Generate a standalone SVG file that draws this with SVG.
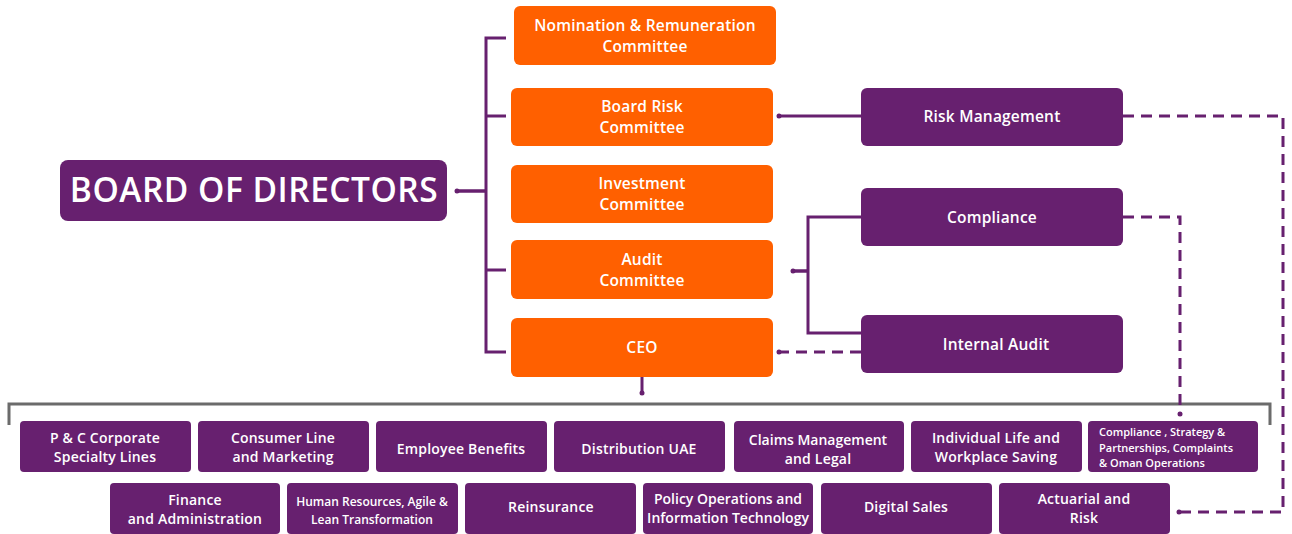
<svg xmlns="http://www.w3.org/2000/svg" width="1292" height="534" viewBox="0 0 1292 534">
<style>
.o{fill:#FF6000}
.p{fill:#67206F}
.t{font-family:"Open Sans","Liberation Sans",sans-serif;fill:#fff;text-anchor:middle;font-size:15.5px;font-weight:600;letter-spacing:0.2px}
.s{font-size:14px}
.ln{stroke:#67206F;stroke-width:3;fill:none}
.d{stroke:#67206F;stroke-width:3;fill:none;stroke-dasharray:11 7}
</style>
<defs>
<marker id="dot" viewBox="0 0 6 6" refX="3" refY="3" markerWidth="6" markerHeight="6" markerUnits="userSpaceOnUse"><circle cx="3" cy="3" r="2.5" fill="#67206F"/></marker>
</defs>
<rect width="1292" height="534" fill="#fff"/>
<g id="connectors">
<path class="ln" d="M506 38H486V352H506M486 116H506M486 270H506M486 191H457" />
<path class="ln" d="M486 191H457" marker-end="url(#dot)"/>
<path class="ln" d="M861 116H779" marker-end="url(#dot)"/>
<path class="ln" d="M861 217H808V333H861M808 271H793" />
<path class="ln" d="M808 271H793" marker-end="url(#dot)"/>
<path class="d" d="M861 352H779" marker-end="url(#dot)"/>
<path class="ln" d="M642 377V393" marker-end="url(#dot)"/>
<path d="M9 425V404H1270V425" stroke="#6B6B6B" stroke-width="3" fill="none"/>
<path class="d" d="M1123 116H1283V512H1179" marker-end="url(#dot)"/>
<path class="d" d="M1123 217H1180V414" marker-end="url(#dot)"/>
</g>
<g id="board"><rect class="p" x="60" y="160" width="387" height="61" rx="8"/><text class="t" x="254" y="202" style="font-size:33.5px;letter-spacing:0.5px">BOARD OF DIRECTORS</text></g>
<g id="nomination"><rect class="o" x="514" y="6" width="262" height="59" rx="6"/><text class="t" x="645" y="31">Nomination &amp; Remuneration</text><text class="t" x="645" y="52">Committee</text></g>
<g id="board-risk"><rect class="o" x="511" y="88" width="262" height="58" rx="6"/><text class="t" x="642" y="112">Board Risk</text><text class="t" x="642" y="133">Committee</text></g>
<g id="investment"><rect class="o" x="511" y="165" width="262" height="58" rx="6"/><text class="t" x="642" y="189">Investment</text><text class="t" x="642" y="210">Committee</text></g>
<g id="audit"><rect class="o" x="511" y="240" width="262" height="59" rx="6"/><text class="t" x="642" y="265">Audit</text><text class="t" x="642" y="286">Committee</text></g>
<g id="ceo"><rect class="o" x="511" y="318" width="262" height="59" rx="6"/><text class="t" x="642" y="353">CEO</text></g>
<g id="risk-management"><rect class="p" x="861" y="88" width="262" height="58" rx="6"/><text class="t" x="992" y="122">Risk Management</text></g>
<g id="compliance"><rect class="p" x="861" y="188" width="262" height="58" rx="6"/><text class="t" x="992" y="223">Compliance</text></g>
<g id="internal-audit"><rect class="p" x="861" y="315" width="262" height="58" rx="6"/><text class="t" x="996" y="350">Internal Audit</text></g>
<g id="pc"><rect class="p" x="20" y="421" width="171" height="51" rx="4"/><text class="t s" x="105" y="443">P &amp; C Corporate</text><text class="t s" x="105" y="462">Specialty Lines</text></g>
<g id="consumer"><rect class="p" x="198" y="421" width="171" height="51" rx="4"/><text class="t s" x="283" y="443">Consumer Line</text><text class="t s" x="283" y="462">and Marketing</text></g>
<g id="employee"><rect class="p" x="376" y="421" width="171" height="51" rx="4"/><text class="t s" x="461" y="454">Employee Benefits</text></g>
<g id="distribution"><rect class="p" x="554" y="421" width="171" height="51" rx="4"/><text class="t s" x="639" y="454">Distribution UAE</text></g>
<g id="claims"><rect class="p" x="734" y="421" width="170" height="51" rx="4"/><text class="t s" x="818" y="445" style="letter-spacing:0">Claims Management</text><text class="t s" x="818" y="464">and Legal</text></g>
<g id="individual"><rect class="p" x="911" y="421" width="171" height="51" rx="4"/><text class="t s" x="996" y="443">Individual Life and</text><text class="t s" x="996" y="462">Workplace Saving</text></g>
<g id="compliance-strategy"><rect class="p" x="1088" y="421" width="170" height="51" rx="4"/><text class="t" x="1099" y="436" style="text-anchor:start;font-size:11px;letter-spacing:0">Compliance , Strategy &amp;</text><text class="t" x="1099" y="452" style="text-anchor:start;font-size:11px;letter-spacing:0">Partnerships, Complaints</text><text class="t" x="1099" y="467" style="text-anchor:start;font-size:11px;letter-spacing:0">&amp; Oman Operations</text></g>
<g id="finance"><rect class="p" x="110" y="483" width="170" height="51" rx="4"/><text class="t s" x="195" y="505">Finance</text><text class="t s" x="195" y="524">and Administration</text></g>
<g id="hr"><rect class="p" x="287" y="483" width="171" height="51" rx="4"/><text class="t" x="372" y="506" style="font-size:12px;letter-spacing:0">Human Resources, Agile &amp;</text><text class="t" x="372" y="524" style="font-size:12px;letter-spacing:0">Lean Transformation</text></g>
<g id="reinsurance"><rect class="p" x="465" y="483" width="171" height="51" rx="4"/><text class="t s" x="551" y="512">Reinsurance</text></g>
<g id="policy"><rect class="p" x="643" y="483" width="170" height="51" rx="4"/><text class="t s" x="728" y="504" style="letter-spacing:0">Policy Operations and</text><text class="t s" x="728" y="523" style="letter-spacing:0">Information Technology</text></g>
<g id="digital"><rect class="p" x="821" y="483" width="171" height="51" rx="4"/><text class="t s" x="906" y="512">Digital Sales</text></g>
<g id="actuarial"><rect class="p" x="999" y="483" width="171" height="51" rx="4"/><text class="t s" x="1084" y="504">Actuarial and</text><text class="t s" x="1084" y="523">Risk</text></g>
</svg>
